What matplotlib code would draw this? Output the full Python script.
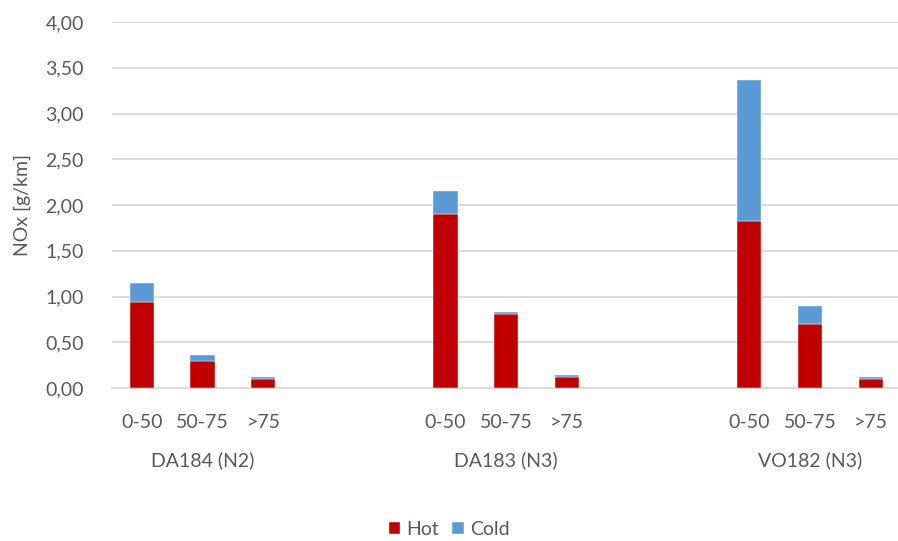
import matplotlib.pyplot as plt
import numpy as np

# Data
groups = ['DA184 (N2)', 'DA183 (N3)', 'VO182 (N3)']
speed_bins = ['0-50', '50-75', '>75']
hot = [0.94, 0.30, 0.10,
       1.90, 0.81, 0.12,
       1.82, 0.70, 0.10]
cold = [0.21, 0.06, 0.02,
        0.25, 0.02, 0.02,
        1.55, 0.20, 0.02]

HOT_COLOR = '#C00000'
COLD_COLOR = '#5B9BD5'
TEXT_COLOR = '#595959'
GRID_COLOR = '#D9D9D9'
FS = 14

plt.rcParams['font.family'] = ['Lato', 'DejaVu Sans']

# each group spans 5 slots, the last 2 empty
pos = np.array([g * 5 + i for g in range(len(groups)) for i in range(len(speed_bins))])

fig = plt.figure(figsize=(8.98, 5.41), dpi=100)
ax = fig.add_axes([111.5 / 898, 1 - 388 / 541, (898 - 111.5) / 898, (388 - 22) / 541])

width = 0.4
ax.bar(pos, hot, width, color=HOT_COLOR, edgecolor='white', linewidth=0.3, label='Hot', zorder=3)
ax.bar(pos, cold, width, bottom=hot, color=COLD_COLOR, edgecolor='white', linewidth=0.3,
       label='Cold', zorder=3)

ax.set_ylim(0, 4)
ax.set_xlim(-0.5, 12.45)
ax.set_yticks(np.arange(0, 4.01, 0.5))
ax.set_yticklabels([f'{v:.2f}'.replace('.', ',') for v in np.arange(0, 4.01, 0.5)])
ax.yaxis.grid(True, color=GRID_COLOR, linewidth=1.3, zorder=0)
ax.set_axisbelow(True)
for s in ['top', 'right', 'left']:
    ax.spines[s].set_visible(False)
ax.spines['bottom'].set_color(GRID_COLOR)
ax.spines['bottom'].set_linewidth(1.3)
ax.tick_params(axis='y', length=0, pad=20, labelsize=FS, labelcolor=TEXT_COLOR)

# two-level category labels
ax.set_xticks(pos)
ax.set_xticklabels([speed_bins[i % 3] for i in range(len(pos))])
ax.tick_params(axis='x', length=0, pad=19, labelsize=FS, labelcolor=TEXT_COLOR)
for g, name in enumerate(groups):
    ax.text(g * 5 + 1, -0.79, name, ha='center', va='center', fontsize=FS,
            color=TEXT_COLOR, transform=ax.transData)

ax.set_ylabel('NOx [g/km]', fontsize=FS, color=TEXT_COLOR, labelpad=10)

fig.legend(loc='lower center', bbox_to_anchor=(0.5, -0.027), ncol=2, frameon=False,
           fontsize=FS, handlelength=0.6, handleheight=0.6, handletextpad=0.3,
           columnspacing=0.7, labelcolor=TEXT_COLOR)

fig.savefig('out.png', dpi=100)
